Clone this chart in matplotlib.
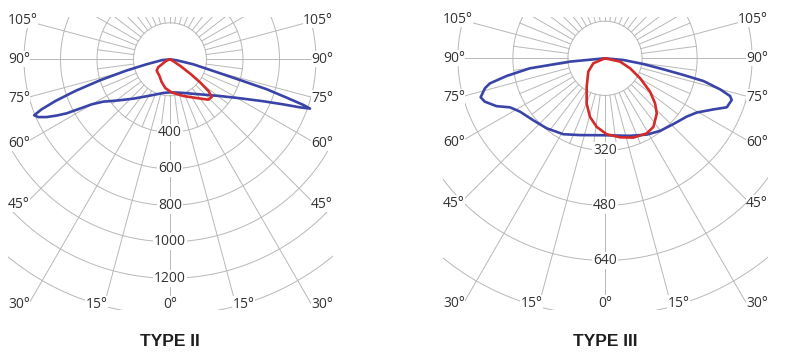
import numpy as np
import matplotlib
matplotlib.use("Agg")
import matplotlib.pyplot as plt
from matplotlib.patches import Rectangle

# ---------------- data ----------------
angle_labels = [0, 15, 30, 45, 60, 75, 90, 105]
titles = ["TYPE II", "TYPE III"]

# TYPE II
t2_rings = [400, 600, 800, 1000, 1200]
t2_blue_theta = [-90, -84, -78, -75.5, -73.3, -71.5, -70, -68.7, -67.6, -66.3, -64.9,
                 -63.6, -62.4, -61.3, -60.1, -57.6, -52.2, -43, -28.8, -11.2, 0, 16.7,
                 40.6, 53.7, 60.9, 65.8, 68.3, 69.7, 70.6, 71.1, 71.8, 72.8, 73.5, 74.9,
                 77.9, 81.5, 90]
t2_blue_cd = [0, 44, 132, 247, 400, 548, 668, 756, 805, 788, 746,
              693, 639, 562, 495, 433, 369, 295, 227, 188, 181, 191,
              253, 340, 439, 561, 668, 759, 813, 773, 673, 555, 400, 246,
              130, 37, 0]
t2_red_theta = [-70, -68, -62, -56, -50, -42, -33, -20, -9, 3, 20, 34.6, 43.5, 47.9,
                50.4, 52.5, 54.5, 57, 60, 62]
t2_red_cd = [0, 20, 35, 78, 95, 100, 107, 133, 160, 182, 214, 258, 305, 308,
             275, 210, 140, 70, 25, 0]

# TYPE III
t3_rings = [320, 480, 640]
t3_blue_theta = [-90, -84.6, -82.4, -79.8, -77.7, -76, -72.6, -70.2, -66.2, -62.7, -57.9,
                 -49.3, -39.8, -28.8, -18.1, 1.2, 17.9, 28.7, 37.1, 46.1, 54.5, 59.4,
                 64.8, 68.1, 71.8, 73.2, 74.9, 77, 78, 79.3, 81.5, 84.7, 90]
t3_blue_cd = [52, 155, 273, 343, 395, 412, 431, 424, 397, 363, 344,
              328, 317, 304, 287, 276, 289, 305, 317, 328, 344, 362,
              401, 434, 440, 432, 399, 346, 285, 225, 165, 106, 52]
t3_red_theta = [-75, -66.8, -51.5, -32.9, -22.1, -14.4, -6.9, 1.3, 10.8, 19.6, 29.1,
                35.3, 43.2, 48, 53.5, 60.3, 68.2, 77.6, 85]
t3_red_cd = [52, 89, 114, 150, 194, 228, 253, 273, 286, 297, 302,
             296, 272, 248, 215, 170, 131, 97, 52]

# ---------------- styling ----------------
W, H = 793, 359
BLUE = "#3a44a8"
RED = "#d42a2a"
GRID = "#b8b8b8"
TXT = "#333333"
LABEL_FONT = "Open Sans"

fig = plt.figure(figsize=(W / 100, H / 100), dpi=100)
fig.patch.set_facecolor("white")


def draw_chart(cx, cy, scale, r0, inner_v, rings, extra_rings,
               blue_t, blue_v, red_t, red_v, title):
    R = 310
    ax = fig.add_axes([(cx - R) / W, (H - cy - R) / H, 2 * R / W, 2 * R / H],
                      projection="polar")
    ax.set_theta_zero_location("S")
    ax.set_theta_direction(1)
    ax.set_ylim(r0, r0 + R / scale)
    ax.set_axis_off()

    clip = Rectangle(((cx - 162) / W, (H - 310) / H), 325 / W, 293 / H,
                     transform=fig.transFigure, facecolor="none", edgecolor="none")

    def val(rpx):
        return r0 + rpx / scale

    def add(art):
        art.set_clip_path(clip)
        return art

    th = np.linspace(0, 2 * np.pi, 1441)
    # rings
    for v in [inner_v] + list(rings) + list(extra_rings):
        ln, = ax.plot(th, np.full_like(th, v), color=GRID, lw=0.7, zorder=1)
        add(ln)

    # major spokes every 15 deg
    for a in range(0, 181, 15):
        for sgn in ([1] if a in (0, 180) else [-1, 1]):
            if a <= 15:
                rend = 245 / np.cos(np.deg2rad(a))
            elif a <= 105:
                rend = (142 if sgn < 0 else 143) / np.sin(np.deg2rad(a))
            else:
                rend = R
            t = np.deg2rad(sgn * a)
            ln, = ax.plot([t, t], [inner_v, val(rend)], color=GRID, lw=0.7, zorder=1)
            add(ln)

    # minor spokes (half-way between majors) in the inner band
    for a in np.arange(7.5, 360, 15):
        t = np.deg2rad(a)
        ln, = ax.plot([t, t], [inner_v, rings[0]], color=GRID, lw=0.7, zorder=1)
        add(ln)

    # ring labels
    for v in rings:
        ax.text(0, v, str(v), ha="center", va="center", fontsize=10,
                family=LABEL_FONT, color=TXT, zorder=3,
                bbox=dict(facecolor="white", edgecolor="none", pad=0.6))

    # angle labels
    def put(dx, dy, s, ha):
        t = np.arctan2(dx, dy)
        r = np.hypot(dx, dy)
        ax.text(t, val(r), s, ha=ha, va="center", fontsize=10, family=LABEL_FONT,
                color=TXT, zorder=3,
                bbox=dict(facecolor="white", edgecolor="none", pad=0.3))

    for a in angle_labels:
        s = f"{a}\u00b0"
        if a == 0:
            put(0, 245, s, "center")
        elif a == 15:
            put(-73.5, 245, s, "center")
            put(73.5, 245, s, "center")
        else:
            dy = min(145 / np.tan(np.deg2rad(a)), 245)
            put(-162, dy, s, "left")
            put(163, dy, s, "right")

    # curves
    ln, = ax.plot(np.deg2rad(blue_t), blue_v, color=BLUE, lw=1.9, zorder=4,
                  solid_joinstyle="round", solid_capstyle="round")
    add(ln)
    ln, = ax.plot(np.deg2rad(red_t), red_v, color=RED, lw=1.9, zorder=5,
                  solid_joinstyle="round", solid_capstyle="round")
    add(ln)

    fig.text(cx / W, (H - 342) / H, title, ha="center", va="center", fontsize=12.5,
             fontweight="bold", family="Liberation Sans", color="#1e1e1e")


draw_chart(170, 59.3, 0.1825, 0.0, 200, t2_rings, [1400],
           t2_blue_theta, t2_blue_cd, t2_red_theta, t2_red_cd, titles[0])
draw_chart(605, 58.3, 0.34375, 52.0, 160, t3_rings, [800],
           t3_blue_theta, t3_blue_cd, t3_red_theta, t3_red_cd, titles[1])

fig.savefig("out.png", dpi=100, facecolor="white")
